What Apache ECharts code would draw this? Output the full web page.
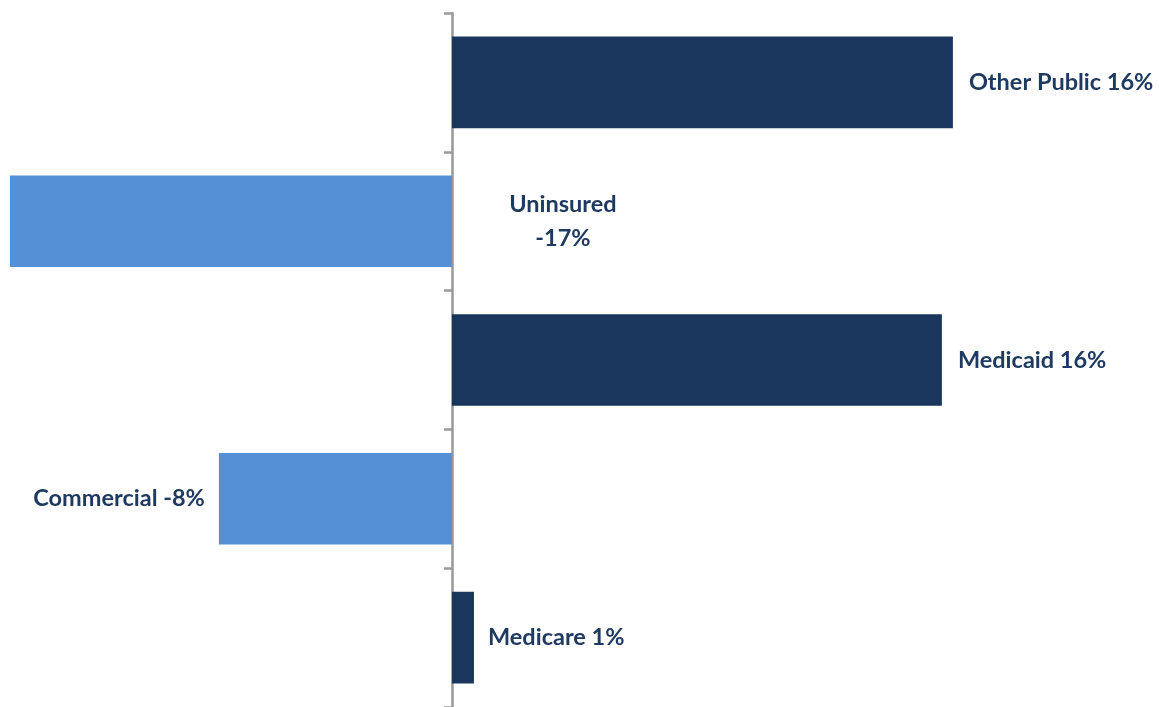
<!DOCTYPE html>
<html>
<head>
<meta charset="utf-8">
<script src="https://cdn.jsdelivr.net/npm/echarts@6/dist/echarts.min.js"></script>
<style>html,body{margin:0;padding:0;background:#fff;}#c{width:1159px;height:707px;}</style>
</head>
<body>
<div id="c"></div>
<script>
const categories = ['Other Public', 'Uninsured', 'Medicaid', 'Commercial', 'Medicare'];
const values = [16.36, -17, 16, -7.61, 0.72];
const labels = ['Other Public 16%', 'Uninsured\n-17%', 'Medicaid 16%', 'Commercial -8%', 'Medicare 1%'];

const navy = '#1a365d', light = '#558fd5', textColor = '#1f3a60';
const labelCfg = [
  {position: 'right', distance: 16},
  {position: 'right', distance: 111, align: 'center', lineHeight: 34},
  {position: 'right', distance: 16},
  {position: 'left', distance: 14},
  {position: 'right', distance: 14}
];
const chart = echarts.init(document.getElementById('c'));
chart.setOption({
  animation: false,
  grid: {left: 10, right: 0, top: 13, bottom: 0, containLabel: false},
  xAxis: {type: 'value', min: -14.43, max: 23.09, show: false, splitLine: {show: false}},
  yAxis: {
    type: 'category', data: categories, inverse: true,
    axisLine: {show: true, onZero: true, lineStyle: {color: '#999', width: 2.5}},
    axisTick: {show: true, length: 8, lineStyle: {color: '#999', width: 2.5}},
    axisLabel: {show: false}
  },
  series: [{
    type: 'bar', barCategoryGap: '34%', clip: true,
    data: values.map((v, i) => ({
      value: v,
      itemStyle: {color: v < 0 ? light : navy},
      label: Object.assign({
        show: true, formatter: labels[i], color: textColor,
        fontFamily: 'Lato', fontWeight: 'bold', fontSize: 23.5
      }, labelCfg[i])
    }))
  }]
});
</script>
</body>
</html>
